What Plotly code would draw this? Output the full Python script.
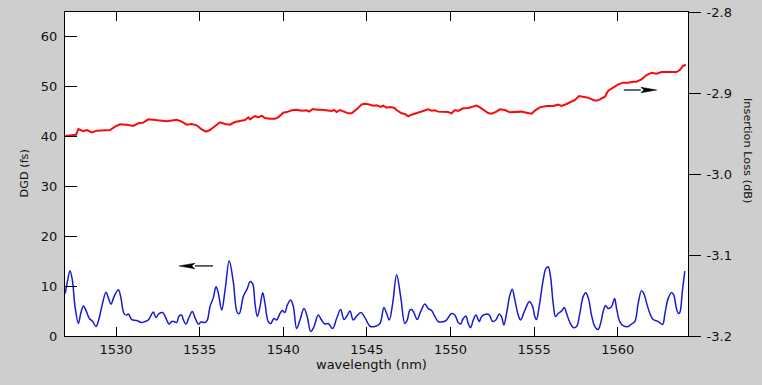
import plotly.graph_objects as go

# ---------------- data ----------------
blue_wl = [1526.96,1527.11,1527.25,1527.39,1527.55,1527.75,1527.89,1528.05,1528.21,1528.41,
           1528.61,1528.80,1528.97,1529.15,1529.40,1529.54,1529.70,1529.88,1530.14,1530.28,
           1530.48,1530.64,1530.74,1530.94,1531.24,1531.54,1531.73,1531.93,1532.07,1532.23,
           1532.39,1532.57,1532.79,1532.97,1533.17,1533.33,1533.47,1533.63,1533.77,1533.93,
           1534.02,1534.18,1534.36,1534.56,1534.72,1534.92,1535.08,1535.32,1535.46,1535.62,
           1535.82,1535.98,1536.11,1536.32,1536.52,1536.77,1537.01,1537.25,1537.37,1537.61,
           1537.85,
           1538.01,1538.17,1538.31,1538.45,1538.61,1538.77,1538.91,1539.10,1539.25,1539.44,
           1539.60,1539.80,1539.94,1540.10,1540.24,1540.44,1540.60,1540.80,1541.00,1541.24,
           1541.43,1541.64,1541.84,1542.09,1542.29,1542.49,1542.69,1542.95,1543.19,1543.43,
           1543.63,1543.79,1543.99,1544.18,1544.39,1544.64,1544.88,1545.18,1545.48,1545.78,
           1546.02,1546.18,1546.34,1546.54,1546.78,1547.02,1547.27,1547.41,1547.57,1547.67,
           1547.81,1548.01,1548.21,1548.47,1548.67,1548.87,1549.07,1549.26,1549.46,1549.76,
           1550.06,1550.26,1550.46,1550.60,1550.76,1550.92,1551.06,1551.20,1551.36,1551.52,
           1551.72,1551.86,1552.16,1552.32,1552.52,1552.71,1552.91,
           1553.05,1553.19,1553.35,1553.55,1553.69,1553.85,1554.05,1554.19,1554.39,1554.55,
           1554.71,1554.91,1555.04,1555.14,1555.30,1555.54,1555.70,1555.84,1555.98,1556.14,
           1556.28,1556.44,1556.64,1556.80,1556.94,1557.14,1557.34,1557.54,1557.73,1557.93,
           1558.09,1558.25,1558.43,1558.63,1558.83,1558.97,1559.13,1559.27,1559.43,1559.63,
           1559.81,1559.93,1560.12,1560.32,1560.62,1560.82,1561.02,1561.22,1561.42,1561.56,
           1561.72,1561.92,1562.12,1562.42,1562.68,1562.82,1563.01,1563.21,1563.35,1563.51,
           1563.63,1563.71,1563.87,1564.01]

blue_dgd = [8.5,11.2,13.1,11.2,5.9,2.5,4.5,6.0,5.1,3.5,
            2.9,1.9,3.3,5.9,8.8,7.7,6.4,7.9,9.3,7.9,
            4.5,4.2,4.4,3.3,3.1,2.7,2.9,3.2,4.0,4.8,
            3.7,4.5,4.7,3.7,2.4,2.9,2.9,2.7,4.0,4.2,
            3.3,2.4,3.7,4.9,3.7,2.4,2.8,2.7,3.2,5.9,
            7.7,9.9,8.7,5.2,9.2,15.1,10.9,4.7,4.5,7.9,
            9.5,
            10.9,10.5,6.5,3.9,5.9,8.7,6.5,2.9,2.5,3.5,
            3.2,4.5,5.1,4.7,6.2,7.2,6.0,1.5,3.2,5.5,
            3.9,0.9,1.9,4.2,3.2,2.4,2.5,1.5,3.5,5.3,
            3.3,3.9,5.0,3.2,4.0,4.7,3.7,2.0,1.9,2.5,
            5.7,4.5,3.2,6.5,12.3,7.9,2.5,3.2,5.2,5.3,
            4.7,3.3,4.9,6.4,5.5,5.1,3.9,2.9,2.8,3.2,
            4.5,4.2,2.7,2.4,3.5,4.0,2.5,1.7,3.2,4.2,
            2.9,3.9,4.4,4.2,2.9,3.2,4.4,
            3.9,2.2,4.5,8.2,9.4,7.2,4.2,3.2,4.7,6.0,
            6.9,5.9,3.9,3.3,5.9,11.2,13.5,13.9,11.9,6.5,
            3.9,4.5,5.0,5.7,4.5,2.7,1.7,1.9,4.5,7.9,
            8.7,7.5,4.2,1.9,1.3,2.5,4.9,6.1,5.5,5.9,
            7.5,5.5,2.9,2.1,1.9,2.4,2.9,6.5,9.1,8.5,
            6.7,4.5,3.3,2.9,2.3,4.5,7.5,8.7,8.2,5.5,
            4.5,4.7,9.2,13.0]

red_wl = [1526.96,1527.61,1527.75,1528.05,1528.28,1528.55,1528.85,1529.44,1529.64,1529.94,
          1530.24,1530.74,1531.03,1531.33,1531.63,1531.93,1532.23,1533.03,1533.63,1533.93,
          1534.23,1534.52,1534.82,1535.12,1535.38,1535.62,1535.92,1536.22,1536.52,1536.81,
          1537.11,1537.41,1537.71,1537.91,
          1538.01,1538.31,1538.51,1538.71,1538.91,1539.21,1539.50,1539.70,1540.00,1540.30,
          1540.50,1540.80,1541.10,1541.40,1541.56,1541.76,1542.00,1542.30,1542.59,1542.89,
          1543.03,1543.19,1543.39,1543.69,1543.89,1544.09,1544.39,1544.69,1544.88,1545.08,
          1545.38,1545.58,1545.82,1545.98,1546.18,1546.38,1546.62,1546.78,1547.07,1547.27,
          1547.47,1547.67,1547.87,1548.17,1548.47,1548.67,1548.87,1549.07,1549.26,1549.56,
          1549.86,1550.06,1550.26,1550.46,1550.76,1551.06,1551.36,1551.56,1551.76,1551.96,
          1552.25,1552.45,1552.75,
          1552.95,1553.25,1553.55,1553.95,1554.25,1554.55,1554.85,1555.04,1555.34,1555.74,
          1556.14,1556.44,1556.64,1556.94,1557.24,1557.44,1557.69,1557.93,1558.23,1558.53,
          1558.73,1558.93,1559.23,1559.43,1559.73,1560.03,1560.33,1560.62,1560.92,1561.12,
          1561.42,1561.72,1562.02,1562.32,1562.62,1562.92,1563.21,1563.51,1563.71,1563.91,
          1564.07]

red_il = [-2.9530,-2.9515,-2.9444,-2.9470,-2.9457,-2.9486,-2.9465,-2.9465,-2.9457,-2.9416,
          -2.9387,-2.9395,-2.9407,-2.9374,-2.9366,-2.9325,-2.9333,-2.9350,-2.9330,-2.9354,
          -2.9391,-2.9383,-2.9399,-2.9448,-2.9477,-2.9457,-2.9407,-2.9362,-2.9383,-2.9391,
          -2.9358,-2.9350,-2.9333,-2.9300,
          -2.9325,-2.9284,-2.9300,-2.9280,-2.9309,-2.9317,-2.9317,-2.9300,-2.9243,-2.9230,
          -2.9214,-2.9206,-2.9218,-2.9214,-2.9230,-2.9198,-2.9206,-2.9206,-2.9210,-2.9222,
          -2.9210,-2.9235,-2.9210,-2.9230,-2.9251,-2.9251,-2.9202,-2.9140,-2.9132,-2.9140,
          -2.9156,-2.9152,-2.9173,-2.9156,-2.9181,-2.9173,-2.9181,-2.9210,-2.9251,-2.9259,
          -2.9288,-2.9268,-2.9255,-2.9235,-2.9210,-2.9202,-2.9218,-2.9214,-2.9230,-2.9235,
          -2.9235,-2.9251,-2.9210,-2.9222,-2.9189,-2.9185,-2.9173,-2.9156,-2.9177,-2.9210,
          -2.9247,-2.9255,-2.9230,
          -2.9202,-2.9210,-2.9239,-2.9239,-2.9230,-2.9243,-2.9255,-2.9218,-2.9177,-2.9160,
          -2.9160,-2.9144,-2.9160,-2.9136,-2.9111,-2.9086,-2.9037,-2.9045,-2.9058,-2.9086,
          -2.9095,-2.9078,-2.9045,-2.8972,-2.8930,-2.8893,-2.8872,-2.8872,-2.8860,-2.8860,
          -2.8831,-2.8778,-2.8749,-2.8761,-2.8741,-2.8741,-2.8745,-2.8741,-2.8716,-2.8663,
          -2.8654]

assert len(blue_wl) == len(blue_dgd), (len(blue_wl), len(blue_dgd))
assert len(red_wl) == len(red_il), (len(red_wl), len(red_il))

x_ticks = [1530, 1535, 1540, 1545, 1550, 1555, 1560]
y_ticks = [0, 10, 20, 30, 40, 50, 60]
y2_ticks = [-3.2, -3.1, -3.0, -2.9, -2.8]
y2_ticktext = ["-3.2", "-3.1", "-3.0", "-2.9", "-2.8"]

x_title = "wavelength (nm)"
y_title = "DGD (fs)"
y2_title = "Insertion Loss (dB)"

# arrows pointing to each curve's axis (data coordinates)
left_arrow = dict(tail=1535.80, tip=1533.77, y=14.06, head=0.95, half=0.55)
right_arrow = dict(tail=1560.36, tip=1562.33, y=-2.8963, head=0.95, half=0.0034)

# ---------------- figure ----------------
FONT = "DejaVu Sans, Liberation Sans, Arial, sans-serif"
BLUE = "rgb(25,25,210)"
RED = "rgb(250,10,10)"

fig = go.Figure()
fig.add_trace(go.Scatter(x=blue_wl, y=blue_dgd, mode="lines",
                         line=dict(color=BLUE, width=1.5, shape="spline", smoothing=1.0),
                         yaxis="y", showlegend=False, hoverinfo="skip"))
fig.add_trace(go.Scatter(x=red_wl, y=red_il, mode="lines",
                         line=dict(color=RED, width=2),
                         yaxis="y2", showlegend=False, hoverinfo="skip"))

shapes = []
for arr, yref in ((left_arrow, "y"), (right_arrow, "y2")):
    direction = 1 if arr["tip"] > arr["tail"] else -1
    base = arr["tip"] - direction * arr["head"]
    shapes.append(dict(type="line", xref="x", yref=yref,
                       x0=arr["tail"], x1=base, y0=arr["y"], y1=arr["y"],
                       line=dict(color="black", width=1.2)))
    shapes.append(dict(type="path", xref="x", yref=yref,
                       path=f"M {arr['tip']},{arr['y']} L {base},{arr['y'] + arr['half']} "
                            f"L {base + direction * arr['head'] * 0.2},{arr['y']} "
                            f"L {base},{arr['y'] - arr['half']} Z",
                       fillcolor="black", line=dict(color="black", width=0.5)))

axis_common = dict(showgrid=False, zeroline=False, showline=True, linecolor="black",
                   linewidth=1, tickcolor="black", tickwidth=1, automargin=False,
                   tickfont=dict(family=FONT, size=13, color="#111"))

fig.update_layout(
    width=762, height=385,
    margin=dict(l=65, r=74, t=12, b=49, autoexpand=False),
    paper_bgcolor="#cecece", plot_bgcolor="white",
    font=dict(family=FONT, color="#111"),
    xaxis=dict(range=[1526.95, 1564.2], tickvals=x_ticks, ticks="inside", ticklen=9,
               mirror="ticks", ticklabelstandoff=1, **axis_common),
    yaxis=dict(range=[0, 65], tickvals=y_ticks, ticks="inside", ticklen=12,
               ticklabelstandoff=4, **axis_common),
    yaxis2=dict(range=[-3.2, -2.8], tickvals=y2_ticks, ticktext=y2_ticktext,
                overlaying="y", side="right", ticks="outside", ticklen=12,
                ticklabelstandoff=3, **axis_common),
    shapes=shapes,
    annotations=[
        dict(text=x_title, xref="paper", yref="paper", x=0.492, y=-0.0895,
             xanchor="center", yanchor="middle", showarrow=False,
             font=dict(family=FONT, size=13, color="#111")),
        dict(text=y_title, xref="paper", yref="paper", x=-0.0666, y=0.5,
             xanchor="center", yanchor="middle", textangle=-90, showarrow=False,
             font=dict(family=FONT, size=11.3, color="#111")),
        dict(text=y2_title, xref="paper", yref="paper", x=1.0947, y=0.571,
             xanchor="center", yanchor="middle", textangle=90, showarrow=False,
             font=dict(family=FONT, size=11.3, color="#111")),
    ],
)

fig.write_html("out.html")
